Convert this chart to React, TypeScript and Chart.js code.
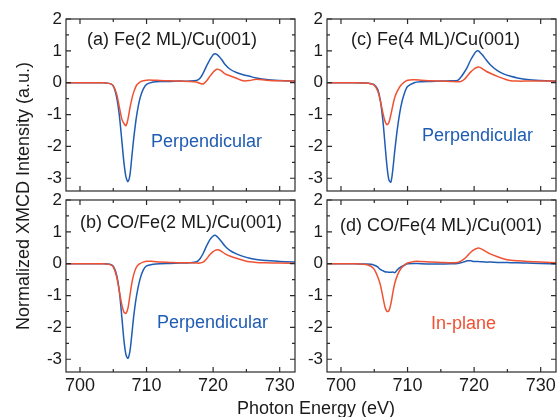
import React, { useEffect, useRef } from 'react';
import { Chart, registerables } from 'chart.js';

Chart.register(...registerables);

// Photon energy grid (eV)
const ENERGY = [697.5, 700, 702, 703.5, 704.5, 705, 705.5, 705.9, 706.3, 706.6, 706.9, 707.2, 707.5, 707.8, 708.1, 708.5, 709, 709.5, 710, 711, 712, 713.5, 715, 716.5, 717.5, 718, 718.5, 719, 719.5, 720, 720.3, 720.6, 720.9, 721.3, 721.8, 722.5, 723.5, 724.5, 725.5, 726.5, 728, 730, 733];

// (a) Fe(2 ML)/Cu(001)
const A_PERP = [0, 0, 0, 0, -0.03, -0.1, -0.45, -1.0, -1.85, -2.5, -2.95, -3.1, -2.9, -2.3, -1.7, -1.05, -0.5, -0.2, -0.05, 0.02, 0.04, 0.04, 0.05, 0.05, 0.07, 0.13, 0.3, 0.52, 0.72, 0.88, 0.91, 0.88, 0.82, 0.72, 0.57, 0.43, 0.32, 0.25, 0.2, 0.15, 0.1, 0.07, 0.04];
const A_INPLANE = [0, 0, 0, 0, -0.03, -0.1, -0.35, -0.75, -1.15, -1.28, -1.35, -1.15, -0.8, -0.5, -0.28, -0.08, 0.02, 0.06, 0.08, 0.08, 0.07, 0.06, 0.05, 0.04, 0.02, -0.02, -0.04, 0.05, 0.2, 0.33, 0.39, 0.42, 0.41, 0.36, 0.28, 0.22, 0.14, 0.06, 0.07, 0.11, 0.08, 0.06, 0.05];

// (b) CO/Fe(2 ML)/Cu(001)
const B_PERP = [0, 0, 0, 0, -0.02, -0.08, -0.35, -0.85, -1.7, -2.4, -2.85, -2.97, -2.75, -2.2, -1.6, -1.0, -0.5, -0.2, -0.07, -0.02, 0, 0.01, 0.02, 0.03, 0.06, 0.15, 0.32, 0.55, 0.75, 0.87, 0.89, 0.85, 0.78, 0.68, 0.55, 0.42, 0.31, 0.23, 0.17, 0.13, 0.1, 0.07, 0.05];
const B_INPLANE = [0, 0, 0, 0, -0.03, -0.1, -0.4, -0.85, -1.3, -1.52, -1.56, -1.4, -1.0, -0.6, -0.32, -0.1, 0, 0.05, 0.08, 0.07, 0.05, 0.04, 0.03, 0.03, 0.02, 0.02, 0.05, 0.15, 0.28, 0.38, 0.42, 0.44, 0.43, 0.38, 0.31, 0.24, 0.17, 0.11, 0.06, 0.04, 0.03, 0.02, 0.01];

// (c) Fe(4 ML)/Cu(001)
const C_PERP = [0, 0, 0, -0.01, -0.03, -0.07, -0.2, -0.55, -1.2, -1.9, -2.6, -3.05, -3.12, -2.7, -2.1, -1.4, -0.75, -0.35, -0.12, 0, 0.03, 0.04, 0.05, 0.06, 0.07, 0.17, 0.32, 0.5, 0.72, 0.9, 0.98, 1.0, 0.95, 0.86, 0.72, 0.55, 0.38, 0.27, 0.2, 0.15, 0.1, 0.07, 0.04];
const C_INPLANE = [0, 0, 0, -0.01, -0.03, -0.08, -0.25, -0.55, -0.95, -1.2, -1.32, -1.25, -1.0, -0.7, -0.45, -0.25, -0.08, 0.02, 0.08, 0.09, 0.08, 0.06, 0.05, 0.04, 0.03, 0.04, 0.1, 0.22, 0.34, 0.43, 0.47, 0.49, 0.48, 0.43, 0.36, 0.29, 0.2, 0.12, 0.06, 0.05, 0.05, 0.05, 0.05];

// (d) CO/Fe(4 ML)/Cu(001)
const D_PERP = [0, 0, 0, -0.01, -0.02, -0.05, -0.1, -0.18, -0.22, -0.25, -0.26, -0.27, -0.27, -0.26, -0.28, -0.18, -0.1, -0.05, 0, 0.01, 0, -0.01, -0.01, 0, 0.01, 0.03, 0.06, 0.09, 0.09, 0.07, 0.07, 0.07, 0.06, 0.06, 0.05, 0.05, 0.04, 0.04, 0.03, 0.03, 0.02, 0.01, -0.02];
const D_INPLANE = [0, 0, 0, -0.02, -0.08, -0.18, -0.4, -0.65, -1.05, -1.35, -1.5, -1.48, -1.25, -0.9, -0.6, -0.35, -0.15, -0.05, 0.02, 0.07, 0.07, 0.05, 0.04, 0.03, 0.04, 0.08, 0.15, 0.25, 0.36, 0.44, 0.47, 0.49, 0.48, 0.44, 0.38, 0.3, 0.22, 0.15, 0.11, 0.09, 0.07, 0.05, 0.02];

// Axis ticks
const X_MAJOR = [700, 710, 720, 730];
const X_MINOR = [705, 715, 725];
const Y_MAJOR = [-3, -2, -1, 0, 1, 2];
const Y_MINOR = [-2.5, -1.5, -0.5, 0.5, 1.5];
const X_MIN = 697.9;
const X_MAX = 732.3;
const Y_MIN = -3.4;
const Y_MAX = 2;

const X_TITLE = 'Photon Energy (eV)';
const Y_TITLE = 'Normalized XMCD Intensity (a.u.)';

const W = 558;
const H = 417;
const BLUE = '#1f5cb3';
const RED = '#ef5233';
const TEXT = '#1a1a1a';
const FONT = '"Liberation Sans", Arial, Helvetica, sans-serif';
const Y_W = 34;
const X_H = 30;

type Panel = {
  key: string;
  area: { left: number; top: number; right: number; bottom: number };
  showX: boolean;
  label: string;
  labelPos: [number, number];
  perp: number[];
  inplane: number[];
  note: string;
  noteColor: string;
  notePos: [number, number];
};

const PANELS: Panel[] = [
  { key: 'a', area: { left: 66, top: 19, right: 295, bottom: 191 }, showX: false, label: '(a) Fe(2 ML)/Cu(001)', labelPos: [21, 26], perp: A_PERP, inplane: A_INPLANE, note: 'Perpendicular', noteColor: BLUE, notePos: [85, 128] },
  { key: 'b', area: { left: 66, top: 200, right: 295, bottom: 372 }, showX: true, label: '(b) CO/Fe(2 ML)/Cu(001)', labelPos: [14, 28], perp: B_PERP, inplane: B_INPLANE, note: 'Perpendicular', noteColor: BLUE, notePos: [91, 128] },
  { key: 'c', area: { left: 327, top: 19, right: 556, bottom: 191 }, showX: false, label: '(c) Fe(4 ML)/Cu(001)', labelPos: [24, 26], perp: C_PERP, inplane: C_INPLANE, note: 'Perpendicular', noteColor: BLUE, notePos: [95, 122] },
  { key: 'd', area: { left: 327, top: 200, right: 556, bottom: 372 }, showX: true, label: '(d) CO/Fe(4 ML)/Cu(001)', labelPos: [13, 31], perp: D_PERP, inplane: D_INPLANE, note: 'In-plane', noteColor: RED, notePos: [104, 129] },
];

function makeChart(canvas: HTMLCanvasElement, p: Panel, drawTitles: boolean) {
  const framePlugin = {
    id: 'frame' + p.key,
    afterDatasetsDraw(chart: any) {
      const { ctx, chartArea: a, scales } = chart;
      const xs = scales.x;
      const ys = scales.y;
      ctx.save();
      ctx.strokeStyle = '#2a2a2a';
      ctx.lineWidth = 1.2;
      ctx.strokeRect(a.left, a.top, a.right - a.left, a.bottom - a.top);
      ctx.beginPath();
      const seg = (x1: number, y1: number, x2: number, y2: number) => {
        ctx.moveTo(x1, y1);
        ctx.lineTo(x2, y2);
      };
      X_MAJOR.forEach((v) => {
        const x = xs.getPixelForValue(v);
        seg(x, a.bottom, x, a.bottom - 5);
        seg(x, a.top, x, a.top + 5);
      });
      X_MINOR.forEach((v) => {
        const x = xs.getPixelForValue(v);
        seg(x, a.bottom, x, a.bottom - 3);
        seg(x, a.top, x, a.top + 3);
      });
      Y_MAJOR.forEach((v) => {
        const y = ys.getPixelForValue(v);
        seg(a.left, y, a.left + 5, y);
        seg(a.right, y, a.right - 5, y);
      });
      Y_MINOR.forEach((v) => {
        const y = ys.getPixelForValue(v);
        seg(a.left, y, a.left + 3, y);
        seg(a.right, y, a.right - 3, y);
      });
      ctx.stroke();

      ctx.font = `18px ${FONT}`;
      ctx.textAlign = 'left';
      ctx.textBaseline = 'alphabetic';
      ctx.fillStyle = TEXT;
      ctx.fillText(p.label, a.left + p.labelPos[0], a.top + p.labelPos[1]);
      ctx.fillStyle = p.noteColor;
      ctx.fillText(p.note, a.left + p.notePos[0], a.top + p.notePos[1]);
      ctx.restore();
    },
    afterDraw(chart: any) {
      if (!drawTitles) return;
      const { ctx } = chart;
      ctx.save();
      ctx.font = `18px ${FONT}`;
      ctx.fillStyle = TEXT;
      ctx.textAlign = 'center';
      ctx.textBaseline = 'alphabetic';
      ctx.fillText(X_TITLE, 316, 414);
      ctx.translate(29, 196);
      ctx.rotate(-Math.PI / 2);
      ctx.fillText(Y_TITLE, 0, 0);
      ctx.restore();
    },
  };

  const zeroPad = (s: any) => {
    s.paddingTop = 0;
    s.paddingBottom = 0;
    s.paddingLeft = 0;
    s.paddingRight = 0;
  };

  return new Chart(canvas, {
    type: 'line',
    data: {
      datasets: [
        {
          label: 'In-plane',
          data: ENERGY.map((x, i) => ({ x, y: p.inplane[i] })),
          borderColor: RED,
          borderWidth: 1.5,
          pointRadius: 0,
          tension: 0.3,
          fill: false,
        },
        {
          label: 'Perpendicular',
          data: ENERGY.map((x, i) => ({ x, y: p.perp[i] })),
          borderColor: BLUE,
          borderWidth: 1.5,
          pointRadius: 0,
          tension: 0.3,
          fill: false,
        },
      ],
    },
    options: {
      responsive: false,
      animation: false,
      devicePixelRatio: 1,
      events: [],
      layout: {
        padding: {
          left: p.area.left - Y_W,
          top: p.area.top,
          right: W - p.area.right,
          bottom: H - p.area.bottom - (p.showX ? X_H : 0),
        },
      },
      plugins: {
        legend: { display: false },
        tooltip: { enabled: false },
        title: { display: false },
      },
      scales: {
        x: {
          type: 'linear',
          min: X_MIN,
          max: X_MAX,
          display: p.showX,
          grid: { display: false, drawTicks: false },
          border: { display: false },
          ticks: {
            autoSkip: false,
            maxRotation: 0,
            padding: 3,
            color: TEXT,
            font: { family: FONT, size: 18 },
            callback: (v: any) => String(v),
          },
          afterBuildTicks: (s: any) => {
            s.ticks = X_MAJOR.map((v) => ({ value: v }));
          },
          afterFit: (s: any) => {
            s.height = p.showX ? X_H : 0;
            zeroPad(s);
          },
        },
        y: {
          type: 'linear',
          min: Y_MIN,
          max: Y_MAX,
          grid: { display: false, drawTicks: false },
          border: { display: false },
          ticks: {
            autoSkip: false,
            padding: 4,
            color: TEXT,
            font: { family: FONT, size: 17 },
            callback: (v: any) => String(v),
          },
          afterBuildTicks: (s: any) => {
            s.ticks = Y_MAJOR.map((v) => ({ value: v }));
          },
          afterFit: (s: any) => {
            s.width = Y_W;
            zeroPad(s);
          },
        },
      },
    } as any,
    plugins: [framePlugin],
  });
}

export default function App() {
  const refs = useRef<(HTMLCanvasElement | null)[]>([]);

  useEffect(() => {
    const charts = PANELS.map((p, i) =>
      makeChart(refs.current[i] as HTMLCanvasElement, p, i === PANELS.length - 1)
    );
    return () => charts.forEach((c) => c.destroy());
  }, []);

  return (
    <div style={{ position: 'absolute', left: 0, top: 0, width: W, height: H, background: '#ffffff' }}>
      {PANELS.map((p, i) => (
        <canvas
          key={p.key}
          ref={(el) => {
            refs.current[i] = el;
          }}
          width={W}
          height={H}
          style={{ position: 'absolute', left: 0, top: 0, width: W, height: H }}
        />
      ))}
    </div>
  );
}
